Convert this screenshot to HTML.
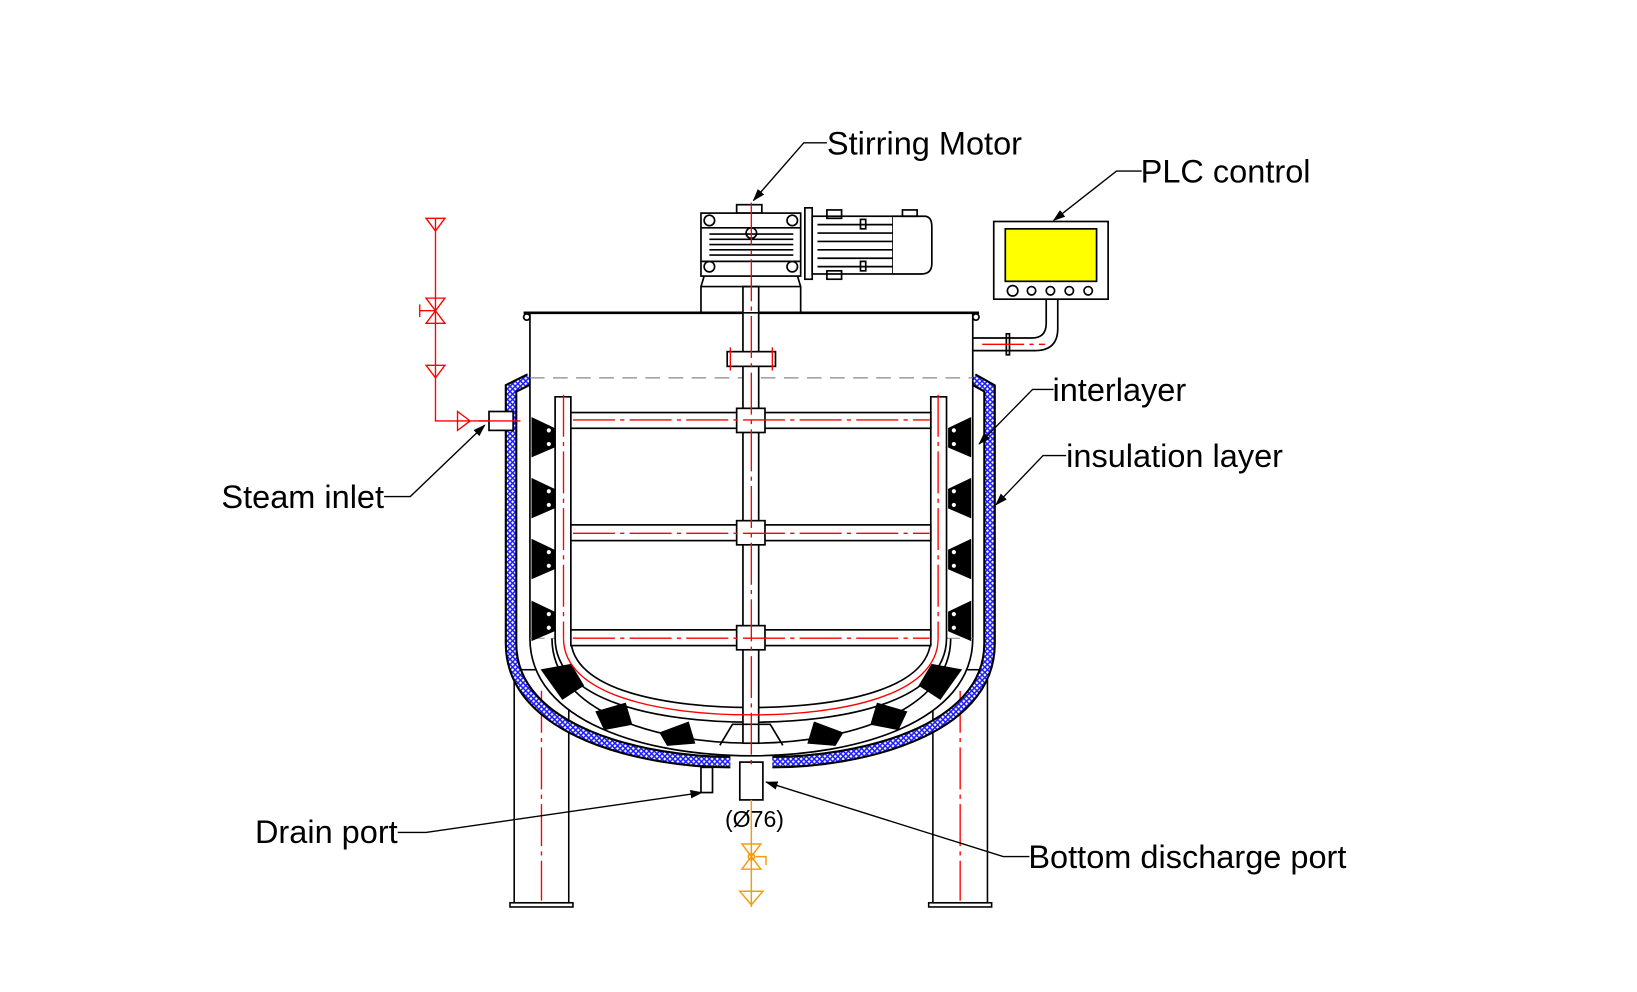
<!DOCTYPE html>
<html><head><meta charset="utf-8"><style>
html,body{margin:0;padding:0;background:#fff;}
svg{display:block;}
text{font-family:"Liberation Sans",sans-serif;font-size:31px;fill:#000;}
</style></head><body>
<svg width="1637" height="992" viewBox="0 0 1560 945" preserveAspectRatio="none" xmlns="http://www.w3.org/2000/svg">
<defs>
<pattern id="h" width="5" height="5" patternUnits="userSpaceOnUse">
<rect width="5" height="5" fill="#fff"/>
<path d="M0 0L5 5M5 0L0 5" stroke="#1a1aff" stroke-width="1.4"/>
</pattern>
<marker id="a" markerWidth="12" markerHeight="8" refX="11" refY="4" orient="auto" markerUnits="userSpaceOnUse">
<path d="M0 0L12 4L0 8z" fill="#000"/></marker>
</defs>
<rect width="1560" height="945" fill="#fff"/>
<g transform="translate(-4,-2)">
<g fill="none" stroke="#000" stroke-width="1.5">
<rect x="494" y="640" width="52" height="222" fill="#fff"/>
<rect x="490" y="862" width="60" height="4"/>
<rect x="893" y="640" width="52" height="222" fill="#fff"/>
<rect x="889" y="862" width="60" height="4"/>
</g>
<g stroke="red" stroke-width="1.3" stroke-dasharray="40 5 4 5" fill="none">
<line x1="520" y1="660" x2="520" y2="860"/><line x1="919" y1="660" x2="919" y2="860"/>
</g>
<path d="M509 363 L491 372 L491 615 C491 700 620 728 700 728 M740 728 C820 728 947 700 947 615 L947 372 L931 363" fill="none" stroke="#000" stroke-width="12"/>
<path d="M509 363 L491 372 L491 615 C491 700 620 728 700 728 M740 728 C820 728 947 700 947 615 L947 372 L931 363" fill="none" stroke="url(#h)" stroke-width="8"/>
<g fill="none" stroke="#000" stroke-width="1.6">
<path d="M509 300 L509 610 C509 690 620 722 720 722 C820 722 931 690 931 610 L931 300" fill="#fff"/>
<path d="M530 610 C530 680 630 710 720 710 C810 710 910 680 910 610"/>
<path d="M509 610 L931 610" stroke="#888" stroke-dasharray="14 8" stroke-width="1"/>
<line x1="503" y1="300" x2="937" y2="300" stroke-width="2.5"/>
<circle cx="506" cy="304" r="3"/><circle cx="934" cy="304" r="3"/>
<line x1="509" y1="362" x2="931" y2="362" stroke="#888" stroke-dasharray="14 8" stroke-width="1.2"/>
<path d="M533 380 L548 380 L548 610 C548 660 640 676 720 676 C800 676 891 660 891 610 L891 380 L906 380 L906 610 C906 670 810 690 720 690 C630 690 533 670 533 610 Z" fill="#fff"/>
<rect x="548" y="395" width="343" height="15" fill="#fff"/>
<rect x="548" y="502" width="343" height="15" fill="#fff"/>
<rect x="548" y="602" width="343" height="15" fill="#fff"/>
<rect x="712" y="275" width="15" height="435" fill="#fff"/>
<rect x="706" y="391" width="27" height="23" fill="#fff"/>
<rect x="706" y="498" width="27" height="23" fill="#fff"/>
<rect x="706" y="598" width="27" height="23" fill="#fff"/>
<rect x="697" y="337" width="46" height="14" fill="#fff"/>
<path d="M690 712 L702 692 L738 692 L750 712"/>
<rect x="709" y="728" width="22" height="36" fill="#fff"/>
<rect x="672" y="733" width="11" height="24" fill="#fff"/>
<rect x="470" y="394" width="23" height="18" fill="#fff"/>
<rect x="706" y="197" width="24" height="8"/>
<rect x="672" y="205" width="95" height="60" fill="#fff"/>
<path d="M672 219H767M672 251H767M680 225H760M680 230H760M680 235H760M680 240H760M680 245H760"/>
<circle cx="680" cy="212" r="5"/><circle cx="759" cy="212" r="5"/><circle cx="680" cy="256" r="5"/><circle cx="759" cy="256" r="5"/>
<circle cx="720" cy="224" r="5"/>
<path d="M675 265 L672 275 L672 300 L767 300 L767 275 L764 265"/>
<line x1="672" y1="275" x2="767" y2="275"/>
<rect x="771" y="200" width="7" height="68" fill="#fff"/>
<rect x="778" y="208" width="77" height="55" fill="#fff"/>
<path d="M783 216H855M783 224H855M783 232H855M783 240H855M783 248H855M783 256H855"/>
<rect x="792" y="202" width="14" height="8"/><rect x="792" y="260" width="14" height="8"/>
<rect x="824" y="211" width="5" height="9"/><rect x="824" y="251" width="5" height="9"/>
<path d="M855 208 L885 208 Q892 208 892 218 L892 253 Q892 263 882 263 L855 263" fill="#fff"/>
<rect x="864" y="202" width="14" height="6"/>
<rect x="951" y="213" width="109" height="74" fill="#fff"/>
<rect x="962" y="220" width="87" height="50" fill="#ffff00"/>
<circle cx="969" cy="279" r="5"/><circle cx="987" cy="279" r="4"/><circle cx="1005" cy="279" r="4"/><circle cx="1023" cy="279" r="4"/><circle cx="1041" cy="279" r="4"/>
<path d="M1001 287 L1001 310 Q1001 324 987 324 L931 324 M1012 287 L1012 315 Q1012 336 990 336 L931 336"/>
<rect x="963" y="320" width="3" height="20"/>
</g>
<g fill="#000" stroke="#000" stroke-width="1">
<path d="M511 400 L532 410 L532 428 L511 437Z"/><path d="M511 458 L532 468 L532 486 L511 495Z"/>
<path d="M511 516 L532 526 L532 544 L511 553Z"/><path d="M511 575 L532 585 L532 603 L511 612Z"/>
<path d="M929 400 L908 410 L908 428 L929 437Z"/><path d="M929 458 L908 468 L908 486 L929 495Z"/>
<path d="M929 516 L908 526 L908 544 L929 553Z"/><path d="M929 575 L908 585 L908 603 L929 612Z"/>
<path d="M520 640 L548 635 L560 655 L540 668Z"/><path d="M572 680 L600 672 L606 692 L580 697Z"/>
<path d="M633 700 L660 690 L666 710 L640 712Z"/>
<path d="M920 640 L892 635 L880 655 L900 668Z"/><path d="M868 680 L840 672 L834 692 L860 697Z"/>
<path d="M807 700 L780 690 L774 710 L800 712Z"/>
</g>
<g fill="#fff" stroke="#000" stroke-width="1">
<circle cx="527" cy="412" r="2.5"/><circle cx="527" cy="425" r="2.5"/><circle cx="527" cy="470" r="2.5"/><circle cx="527" cy="483" r="2.5"/>
<circle cx="527" cy="528" r="2.5"/><circle cx="527" cy="541" r="2.5"/><circle cx="527" cy="587" r="2.5"/><circle cx="527" cy="600" r="2.5"/>
<circle cx="913" cy="412" r="2.5"/><circle cx="913" cy="425" r="2.5"/><circle cx="913" cy="470" r="2.5"/><circle cx="913" cy="483" r="2.5"/>
<circle cx="913" cy="528" r="2.5"/><circle cx="913" cy="541" r="2.5"/><circle cx="913" cy="587" r="2.5"/><circle cx="913" cy="600" r="2.5"/>
</g>
<g stroke="red" stroke-width="1.3" fill="none" stroke-dasharray="40 5 4 5">
<line x1="720" y1="195" x2="720" y2="730"/>
<line x1="541" y1="378" x2="541" y2="610"/><line x1="898" y1="378" x2="898" y2="610"/>
<path d="M541 610 C541 665 635 683 720 683 C805 683 898 665 898 610" stroke-dasharray="none"/>
<line x1="550" y1="402" x2="890" y2="402"/><line x1="550" y1="510" x2="890" y2="510"/><line x1="550" y1="610" x2="890" y2="610"/>
<line x1="700" y1="333" x2="700" y2="355" stroke-dasharray="none"/><line x1="740" y1="333" x2="740" y2="355" stroke-dasharray="none"/>
<line x1="940" y1="330" x2="1000" y2="330"/>
<line x1="460" y1="403" x2="500" y2="403" stroke-dasharray="none"/>
</g>
<g stroke="red" stroke-width="1.3" fill="none">
<path d="M419 210 L419 403 L470 403"/>
<path d="M410 210 L428 210 L419 222Z"/>
<path d="M410 286 L428 286 L410 310 L428 310Z"/><path d="M404 292 L404 304 M404 298 L419 298"/>
<path d="M410 350 L428 350 L419 362Z"/>
<path d="M440 394 L440 412 L452 403Z"/>
</g>
<g stroke="#f39c12" stroke-width="1.4" fill="none">
<path d="M720 764 L720 866"/>
<path d="M711 806 L729 806 L711 830 L729 830Z"/><circle cx="720" cy="818" r="3"/>
<path d="M724 818 L734 818 L734 826"/>
<path d="M709 851 L731 851 L720 864Z"/>
</g>
<g stroke="#000" stroke-width="1.3" fill="none">
<path d="M792 138 L770 138 L722 193" marker-end="url(#a)"/>
<path d="M1092 165 L1068 165 L1008 212" marker-end="url(#a)"/>
<path d="M1008 373 L988 373 L937 425" marker-end="url(#a)"/>
<path d="M1020 436 L998 436 L953 483" marker-end="url(#a)"/>
<path d="M370 475 L395 475 L466 407" marker-end="url(#a)"/>
<path d="M383 795 L410 795 L673 757" marker-end="url(#a)"/>
<path d="M985 818 L960 818 L734 747" marker-end="url(#a)"/>
</g>
<text x="792" y="149">Stirring Motor</text>
<text x="1091" y="176">PLC control</text>
<text x="1007" y="384">interlayer</text>
<text x="1020" y="447">insulation layer</text>
<text x="370" y="486" text-anchor="end">Steam inlet</text>
<text x="383" y="805" text-anchor="end">Drain port</text>
<text x="984" y="829">Bottom discharge port</text>
<text x="723" y="790" text-anchor="middle" style="font-size:22px">(Ø76)</text>
</g>
</svg>
</body></html>
